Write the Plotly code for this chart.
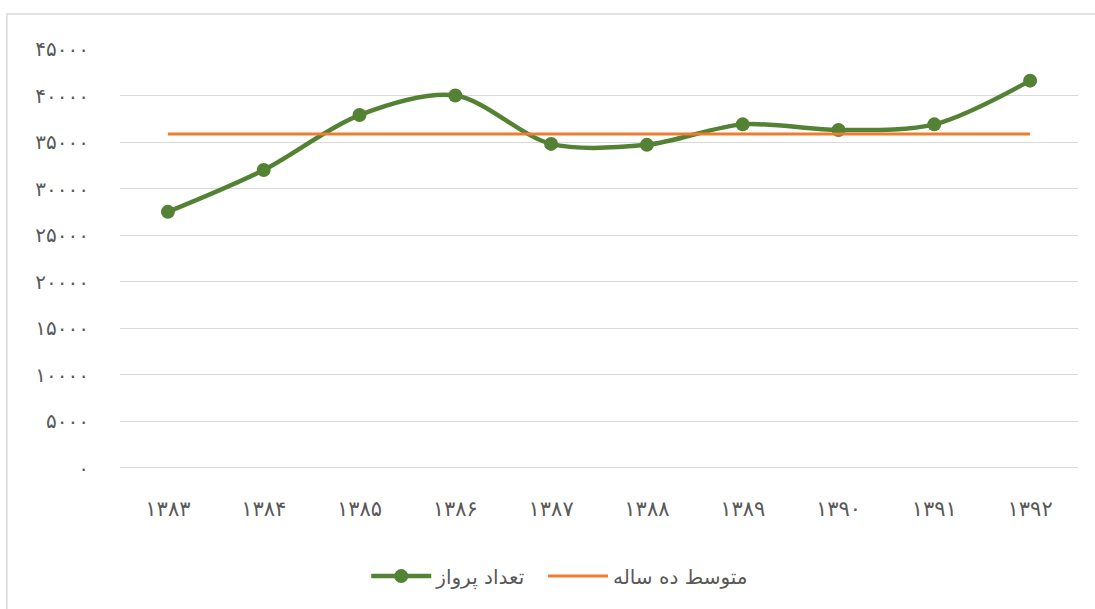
import plotly.graph_objects as go

# سال‌ها و تعداد پرواز
years = ["۱۳۸۳", "۱۳۸۴", "۱۳۸۵", "۱۳۸۶", "۱۳۸۷", "۱۳۸۸", "۱۳۸۹", "۱۳۹۰", "۱۳۹۱", "۱۳۹۲"]
flights = [27500, 32000, 37900, 40000, 34800, 34700, 36900, 36300, 36900, 41600]
avg_value = 35860
avg_line = [avg_value] * len(years)

y_ticks = [0, 5000, 10000, 15000, 20000, 25000, 30000, 35000, 40000, 45000]
y_labels = ["۰", "۵۰۰۰", "۱۰۰۰۰", "۱۵۰۰۰", "۲۰۰۰۰", "۲۵۰۰۰", "۳۰۰۰۰", "۳۵۰۰۰", "۴۰۰۰۰", "۴۵۰۰۰"]

font_family = "DejaVu Sans, Noto Sans, sans-serif"

fig = go.Figure()
fig.add_trace(go.Scatter(
    x=years, y=flights, name="تعداد پرواز" + "\u00a0\u00a0",
    mode="lines+markers",
    line=dict(color="#548235", width=4.5, shape="spline", smoothing=0.9),
    marker=dict(color="#548235", size=14),
))
fig.add_trace(go.Scatter(
    x=years, y=avg_line, name="متوسط ده ساله",
    mode="lines",
    line=dict(color="#ED7D31", width=3),
))

fig.update_layout(
    width=1095, height=609,
    margin=dict(l=120, r=17, t=49, b=141),
    paper_bgcolor="white", plot_bgcolor="white",
    font=dict(family=font_family, color="#595959", size=18),
    showlegend=True,
    legend=dict(orientation="h", x=0.459, xanchor="center", y=-0.258, yanchor="middle",
                font=dict(size=20, color="#595959"), itemwidth=60),
    shapes=[dict(type="rect", xref="paper", yref="paper",
                 x0=-0.118, x1=1.2, y0=-0.6, y1=1.0835,
                 line=dict(color="#D9D9D9", width=1.5), layer="below")],
)
fig.update_xaxes(
    type="category", range=[-0.5, 9.5],
    showgrid=False, showline=False, zeroline=False,
    ticks="", ticklabelstandoff=26,
    tickfont=dict(size=21, color="#595959"),
)
fig.update_yaxes(
    range=[-30, 45000], tickvals=y_ticks, ticktext=y_labels,
    showgrid=True, gridcolor="#D9D9D9", gridwidth=1,
    showline=False, zeroline=True, zerolinecolor="#D9D9D9", zerolinewidth=1,
    ticks="", ticklabelstandoff=30,
    tickfont=dict(size=20, color="#595959"),
)

fig.write_html("out.html", config={"displayModeBar": False},
               post_script="document.body.style.margin='0px';")
